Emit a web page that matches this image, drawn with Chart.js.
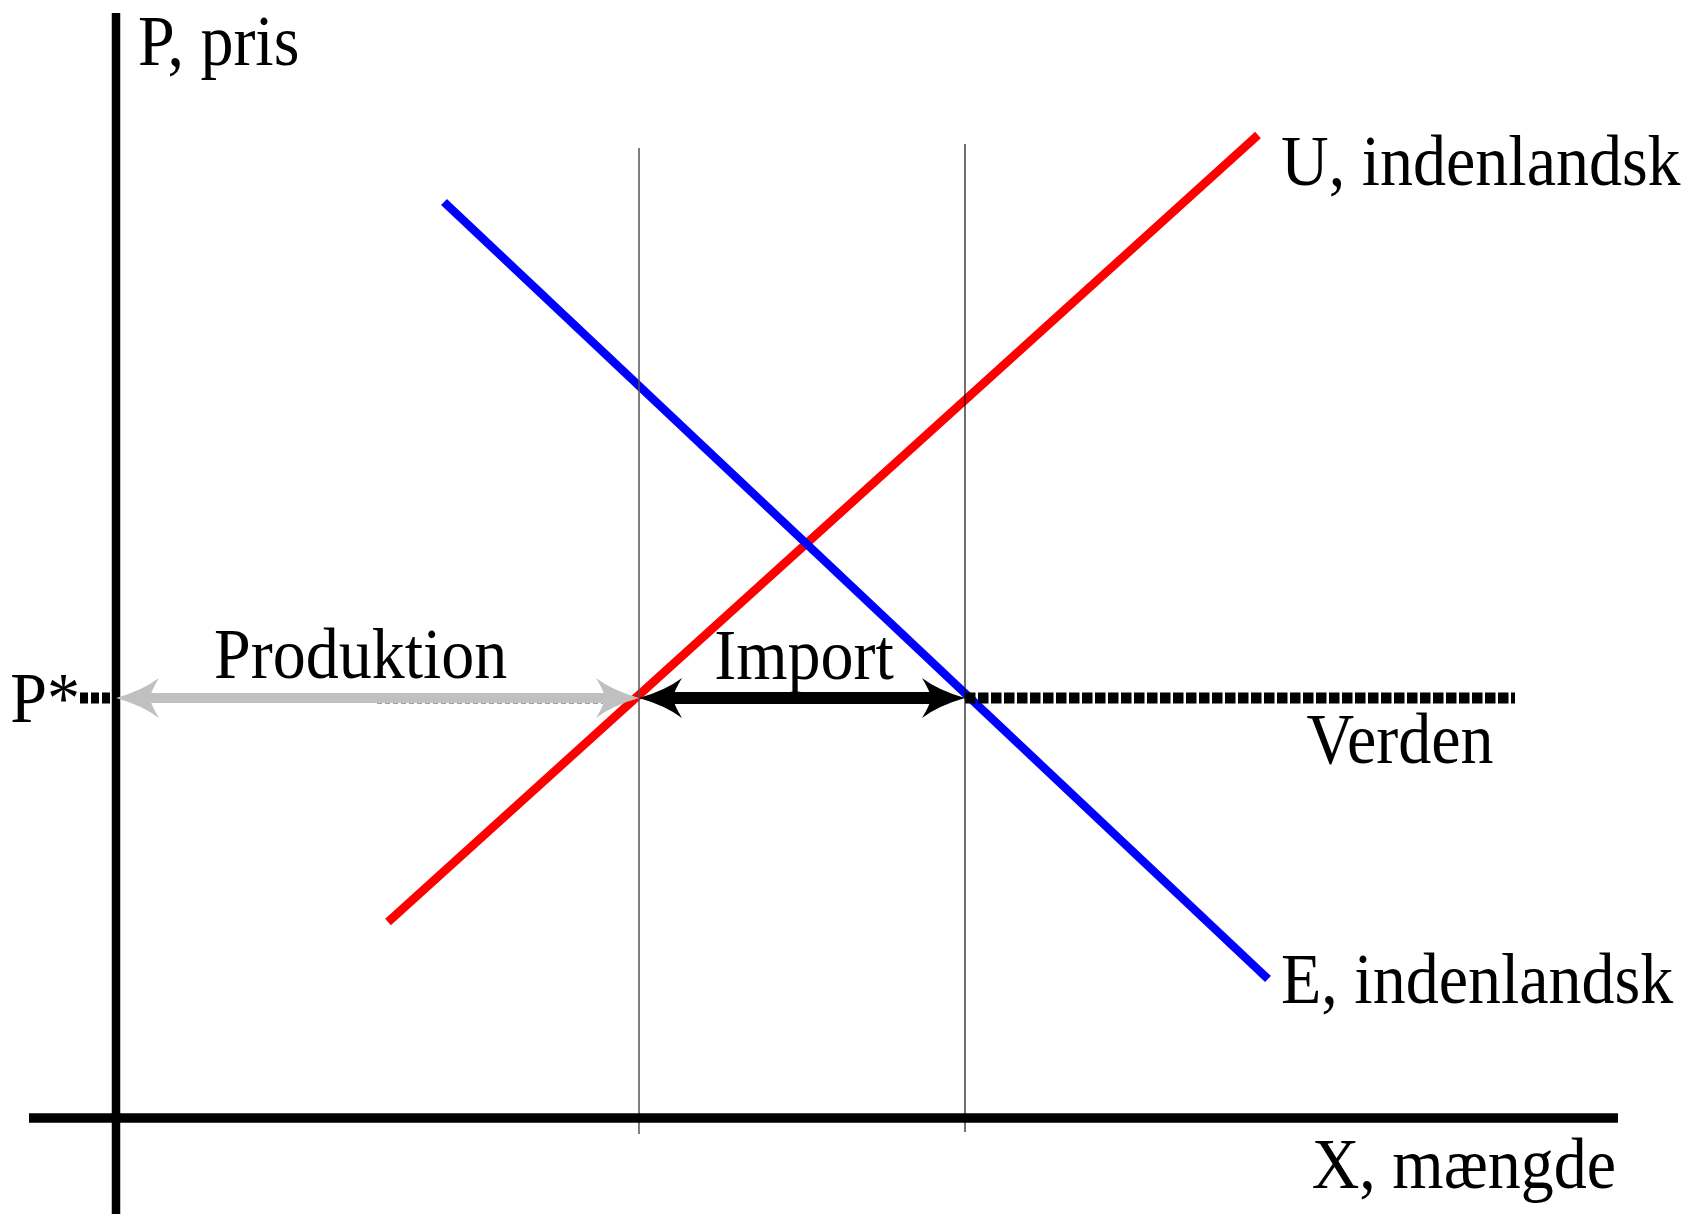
<!DOCTYPE html>
<html>
<head>
<meta charset="utf-8">
<script src="https://cdn.jsdelivr.net/npm/chart.js@4.4.1/dist/chart.umd.min.js"></script>
<style>
  html, body { margin: 0; padding: 0; background: #ffffff; }
  #wrap { width: 1697px; height: 1214px; position: relative; }
</style>
</head>
<body>
<div id="wrap"><canvas id="c" width="1697" height="1214"></canvas></div>
<script>
// ---- data (model units) ----
const supplyX = [27.2, 114.2];          // U, indenlandsk (red)
const supplyY = [19.6, 98.3];
const demandX = [32.8, 115.2];          // E, indenlandsk (blue)
const demandY = [91.6, 13.9];
const worldPrice = 42;                  // P*
const qSupply = 52.3;                   // domestic production at P*
const qDemand = 84.9;                   // domestic demand at P*
const worldLineEnd = 139.9;             // end of "Verden" line
const xAxisRange = [-8.7, 150.2];
const yAxisRange = [-9.6, 110.5];
const guideTops = [97.0, 97.4];
const guideBottoms = [-1.6, -1.4];
const labels = ["P, pris", "X, mængde", "U, indenlandsk", "E, indenlandsk", "Produktion", "Import", "Verden", "P*"];

function seg(x0, y0, x1, y1) { return [{x: x0, y: y0}, {x: x1, y: y1}]; }

const base = { pointRadius: 0, pointHoverRadius: 0, tension: 0, fill: false, clip: false, showLine: true, borderCapStyle: 'butt' };

const datasets = [
  // axes
  Object.assign({}, base, { label: 'x-akse', data: seg(xAxisRange[0], 0, xAxisRange[1], 0), borderColor: '#000', borderWidth: 9.5 }),
  Object.assign({}, base, { label: 'y-akse', data: seg(0, yAxisRange[0], 0, yAxisRange[1]), borderColor: '#000', borderWidth: 8.5 }),
  // vertical guide lines
  Object.assign({}, base, { label: 'Qs', data: seg(qSupply, guideBottoms[0], qSupply, guideTops[0]), borderColor: '#555', borderWidth: 1.5 }),
  Object.assign({}, base, { label: 'Qd', data: seg(qDemand, guideBottoms[1], qDemand, guideTops[1]), borderColor: '#111', borderWidth: 1.2 }),
  // world price dotted parts
  Object.assign({}, base, { label: 'P* stub', data: seg(-3.6, worldPrice, -0.4, worldPrice), borderColor: '#000', borderWidth: 11, borderDash: [8, 3] }),
  Object.assign({}, base, { label: 'Verden', data: seg(qDemand, worldPrice, worldLineEnd, worldPrice), borderColor: '#000', borderWidth: 11, borderDash: [10.5, 2.5] }),
  Object.assign({}, base, { label: 'Verden tynd', data: seg(26.1, worldPrice - 0.5, 48.7, worldPrice - 0.5), borderColor: '#444', borderWidth: 1.2, borderDash: [5, 3] }),
  // curves
  Object.assign({}, base, { label: 'E, indenlandsk', data: seg(demandX[0], demandY[0], demandX[1], demandY[1]), borderColor: '#0000ff', borderWidth: 8.5 }),
  Object.assign({}, base, { label: 'U, indenlandsk', data: seg(supplyX[0], supplyY[0], supplyX[1], supplyY[1]), borderColor: '#ff0000', borderWidth: 8.5 })
];

const arrows = [
  { from: 0, to: qSupply, y: worldPrice, color: '#c0c0c0', width: 10 },
  { from: qSupply, to: qDemand, y: worldPrice, color: '#000000', width: 12 }
];

function drawHead(ctx, tx, ty, dir, color) {
  const L = 43, W = 20, N = 34;
  ctx.beginPath();
  ctx.moveTo(tx, ty);
  ctx.quadraticCurveTo(tx - dir * L * 0.62, ty - W * 0.38, tx - dir * L, ty - W);
  ctx.quadraticCurveTo(tx - dir * (N + 1), ty - 7, tx - dir * N, ty);
  ctx.quadraticCurveTo(tx - dir * (N + 1), ty + 7, tx - dir * L, ty + W);
  ctx.quadraticCurveTo(tx - dir * L * 0.62, ty + W * 0.38, tx, ty);
  ctx.closePath();
  ctx.fillStyle = color;
  ctx.fill();
}

const arrowPlugin = {
  id: 'arrows',
  afterDatasetsDraw(chart) {
    const { ctx } = chart;
    const xs = chart.scales.x, ys = chart.scales.y;
    arrows.forEach(a => {
      const x1 = xs.getPixelForValue(a.from), x2 = xs.getPixelForValue(a.to), py = ys.getPixelForValue(a.y);
      ctx.save();
      ctx.strokeStyle = a.color;
      ctx.lineWidth = a.width;
      ctx.beginPath();
      ctx.moveTo(x1 + 32, py);
      ctx.lineTo(x2 - 32, py);
      ctx.stroke();
      drawHead(ctx, x1, py, -1, a.color);
      drawHead(ctx, x2, py, 1, a.color);
      ctx.restore();
    });
  }
};

// label placements in model units: [text index, x, y, align]
const labelPos = [
  [0, 2.2, 105.3, 'left'],
  [1, 150.0, -7.0, 'right'],
  [2, 116.5, 93.3, 'left'],
  [3, 116.5, 11.5, 'left'],
  [4, 9.8, 44.0, 'left'],
  [5, 68.8, 43.9, 'center'],
  [6, 128.4, 35.5, 'center'],
  [7, -3.6, 39.6, 'right']
];

const textPlugin = {
  id: 'texts',
  afterDraw(chart) {
    const { ctx } = chart;
    const xs = chart.scales.x, ys = chart.scales.y;
    ctx.save();
    ctx.fillStyle = '#000';
    ctx.font = "66px 'Liberation Serif', 'Times New Roman', serif";
    ctx.textBaseline = 'alphabetic';
    labelPos.forEach(([i, x, y, align]) => {
      ctx.save();
      ctx.textAlign = align;
      ctx.translate(xs.getPixelForValue(x), ys.getPixelForValue(y));
      ctx.scale(1.0, 1.08);
      ctx.fillText(labels[i], 0, 0);
      ctx.restore();
    });
    ctx.restore();
  }
};

new Chart(document.getElementById('c'), {
  type: 'scatter',
  data: { datasets },
  options: {
    responsive: false,
    animation: false,
    events: [],
    layout: { padding: 0 },
    plugins: { legend: { display: false }, tooltip: { enabled: false } },
    scales: {
      x: { type: 'linear', display: false, min: -11.6, max: 158.1 },
      y: { type: 'linear', display: false, min: -9.6, max: 111.8 }
    }
  },
  plugins: [arrowPlugin, textPlugin]
});
</script>
</body>
</html>
